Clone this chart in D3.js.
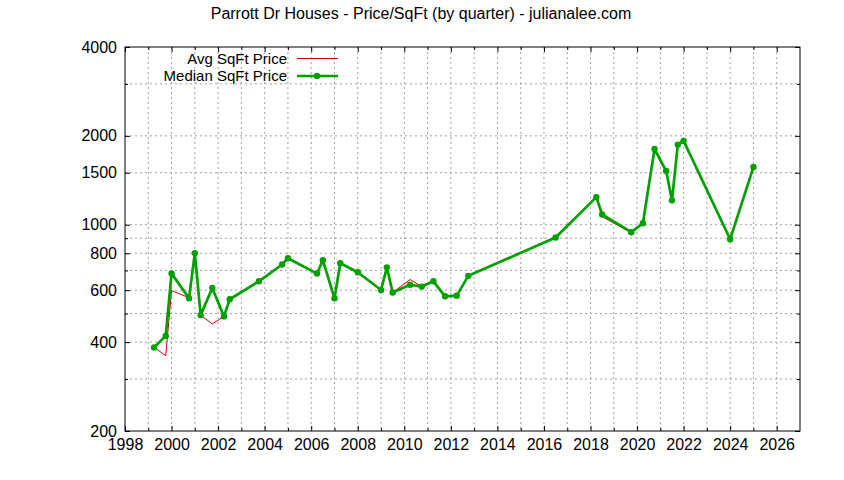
<!DOCTYPE html>
<html>
<head>
<meta charset="utf-8">
<script src="https://cdn.jsdelivr.net/npm/d3@7"></script>
<style>
  body { margin: 0; background: #fff; }
  svg { font-family: "Liberation Sans", Arial, sans-serif; }
</style>
</head>
<body>
<svg id="chart"></svg>
<script>
// quarter dates (decimal years)
const quarters = [1999.25, 1999.75, 2000.0, 2000.75, 2001.0, 2001.25, 2001.75, 2002.25, 2002.5,
    2003.75, 2004.75, 2005.0, 2006.25, 2006.5, 2007.0, 2007.25, 2008.0, 2009.0, 2009.25, 2009.5,
    2010.25, 2010.75, 2011.25, 2011.75, 2012.25, 2012.75, 2016.5, 2018.25, 2018.5, 2019.75,
    2020.25, 2020.75, 2021.25, 2021.5, 2021.75, 2022.0, 2024.0, 2025.0];

const avgPrice = [384, 360, 598, 566, 801, 494, 461, 489, 559,
    643, 733, 770, 683, 758, 563, 740, 690, 601, 717, 589,
    652, 617, 643, 572, 575, 671, 905, 1240, 1065, 940,
    1012, 1805, 1520, 1209, 1868, 1922, 893, 1568];

const medianPrice = [384, 420, 684, 563, 801, 494, 610, 489, 559,
    643, 733, 770, 683, 758, 563, 740, 690, 601, 717, 589,
    626, 617, 643, 572, 575, 671, 905, 1240, 1083, 943,
    1012, 1805, 1520, 1209, 1868, 1922, 893, 1568];

const yTickLabels = [200, 400, 600, 800, 1000, 1500, 2000, 4000];
const yMinorTicks = [300, 500, 700, 900, 3000];
const xTickLabels = d3.range(1998, 2027, 2);
const xMinorTicks = d3.range(1999, 2027, 2);

const titleText = "Parrott Dr Houses - Price/SqFt (by quarter) - julianalee.com";
const seriesNames = ["Avg SqFt Price", "Median SqFt Price"];

const config = {
    width: 844,
    height: 480,
    margin: {top: 47, right: 44, bottom: 49, left: 125},
    red: "#d00000",
    green: "#00a000",
    grid: "#a0a0a0",
    fontSize: "16px"
};

const svg = d3.select("#chart")
    .attr("width", config.width)
    .attr("height", config.height);

const innerW = config.width - config.margin.left - config.margin.right;
const innerH = config.height - config.margin.top - config.margin.bottom;

const g = svg.append("g")
    .attr("transform", `translate(${config.margin.left},${config.margin.top})`);

const xScale = d3.scaleLinear().domain([1998, 2027]).range([0, innerW]);
const yScale = d3.scaleLog().domain([200, 4000]).range([innerH, 0]);

// grid lines
const allY = yTickLabels.concat(yMinorTicks).filter(d => d > 200 && d < 4000);
g.append("g").selectAll("line")
    .data(allY)
    .join("line")
    .attr("x1", 0).attr("x2", innerW)
    .attr("y1", d => yScale(d)).attr("y2", d => yScale(d))
    .attr("stroke", config.grid)
    .attr("stroke-dasharray", "2,3");

const allX = d3.range(1999, 2027);
g.append("g").selectAll("line")
    .data(allX)
    .join("line")
    .attr("y1", 0).attr("y2", innerH)
    .attr("x1", d => xScale(d)).attr("x2", d => xScale(d))
    .attr("stroke", config.grid)
    .attr("stroke-dasharray", "2,3");

// axes with inward ticks
const xAxis = d3.axisBottom(xScale).tickValues(xTickLabels).tickFormat(d3.format("d"))
    .tickSizeInner(-5).tickSizeOuter(0).tickPadding(8);
const xAxisMinor = d3.axisBottom(xScale).tickValues(xMinorTicks).tickFormat("")
    .tickSizeInner(-3).tickSizeOuter(0);
const xAxisTop = d3.axisTop(xScale).tickValues(xTickLabels).tickFormat("")
    .tickSizeInner(-5).tickSizeOuter(0);
const xAxisTopMinor = d3.axisTop(xScale).tickValues(xMinorTicks).tickFormat("")
    .tickSizeInner(-3).tickSizeOuter(0);
const yAxis = d3.axisLeft(yScale).tickValues(yTickLabels).tickFormat(d3.format("d"))
    .tickSizeInner(-5).tickSizeOuter(0).tickPadding(8);
const yAxisMinor = d3.axisLeft(yScale).tickValues(yMinorTicks).tickFormat("")
    .tickSizeInner(-3).tickSizeOuter(0);
const yAxisRight = d3.axisRight(yScale).tickValues(yTickLabels).tickFormat("")
    .tickSizeInner(-5).tickSizeOuter(0);
const yAxisRightMinor = d3.axisRight(yScale).tickValues(yMinorTicks).tickFormat("")
    .tickSizeInner(-3).tickSizeOuter(0);

function styleAxis(sel) {
    sel.select(".domain").remove();
    sel.selectAll("line").attr("stroke", "#000");
    sel.selectAll("text").attr("fill", "#000").style("font-size", config.fontSize)
        .style("font-family", "'Liberation Sans', Arial, sans-serif");
}

g.append("g").attr("transform", `translate(0,${innerH})`).call(xAxis).call(styleAxis);
g.append("g").attr("transform", `translate(0,${innerH})`).call(xAxisMinor).call(styleAxis);
g.append("g").call(xAxisTop).call(styleAxis);
g.append("g").call(xAxisTopMinor).call(styleAxis);
g.append("g").call(yAxis).call(styleAxis);
g.append("g").call(yAxisMinor).call(styleAxis);
g.append("g").attr("transform", `translate(${innerW},0)`).call(yAxisRight).call(styleAxis);
g.append("g").attr("transform", `translate(${innerW},0)`).call(yAxisRightMinor).call(styleAxis);

// frame
g.append("rect")
    .attr("width", innerW).attr("height", innerH)
    .attr("fill", "none").attr("stroke", "#000").attr("stroke-width", 1);

// series lines
const avgData = quarters.map((q, i) => [q, avgPrice[i]]);
const medData = quarters.map((q, i) => [q, medianPrice[i]]);
const line = d3.line().x(d => xScale(d[0])).y(d => yScale(d[1]));

g.append("path")
    .datum(avgData)
    .attr("fill", "none")
    .attr("stroke", config.red)
    .attr("stroke-width", 1)
    .attr("d", line);

g.append("path")
    .datum(medData)
    .attr("fill", "none")
    .attr("stroke", config.green)
    .attr("stroke-width", 2.7)
    .attr("stroke-linejoin", "round")
    .attr("d", line);

g.selectAll(".point")
    .data(medData)
    .join("circle")
    .attr("class", "point")
    .attr("cx", d => xScale(d[0]))
    .attr("cy", d => yScale(d[1]))
    .attr("r", 3.2)
    .attr("fill", config.green);

// legend (rows spaced so the two labels do not collide)
const legend = svg.append("g").style("font-size", "15px");
legend.append("text").attr("x", 287).attr("y", 63.5).attr("text-anchor", "end").text(seriesNames[0]);
legend.append("line").attr("x1", 297).attr("x2", 338).attr("y1", 58.5).attr("y2", 58.5)
    .attr("stroke", config.red).attr("stroke-width", 1);
legend.append("text").attr("x", 287).attr("y", 81).attr("text-anchor", "end").text(seriesNames[1]);
legend.append("line").attr("x1", 297).attr("x2", 338).attr("y1", 76).attr("y2", 76)
    .attr("stroke", config.green).attr("stroke-width", 2.7);
legend.append("circle").attr("cx", 317).attr("cy", 76).attr("r", 3.2).attr("fill", config.green);

// title
svg.append("text")
    .attr("x", 421).attr("y", 19)
    .attr("text-anchor", "middle")
    .style("font-size", config.fontSize)
    .text(titleText);
</script>
</body>
</html>
